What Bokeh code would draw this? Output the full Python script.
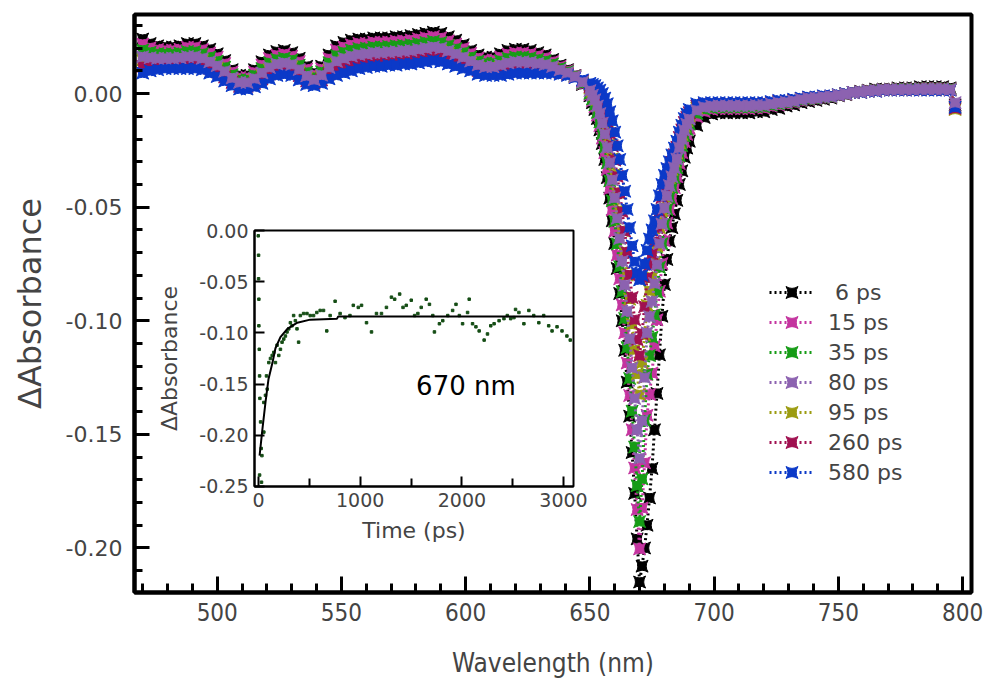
from bokeh.plotting import figure
from bokeh.models import (Range1d, SingleIntervalTicker, FixedTicker, PrintfTickFormatter,
                          Legend, LegendItem, Label)
from bokeh.layouts import column
from bokeh.embed import file_html
from bokeh.resources import INLINE
import numpy as np

# ---------------- data (main panel, dA in mOD) ----------------
wavelength = [470, 473, 476, 479, 482, 485, 488, 491, 494, 497, 500, 503, 506, 509, 512, 515, 518, 521, 524, 527,
              530, 533, 536, 539, 542, 545, 548, 551, 554, 557, 560, 563, 566, 569, 572, 575, 578, 581, 584, 587,
              590, 593, 596, 599, 602, 605, 608, 611, 614, 617, 620, 623, 626, 629, 632, 635, 638, 641, 644, 647,
              650, 651, 652, 653, 654, 655, 656, 657, 658, 659, 660, 661, 662, 663, 664, 665, 666, 667, 668, 669,
              670, 671, 672, 673, 674, 675, 676, 677, 678, 679, 680, 681, 682, 683, 684, 685, 686, 687, 688, 689, 690,
              693, 696, 699, 702, 705, 708, 711, 714, 717, 720, 723, 726, 729, 732, 735, 738, 741, 744, 747, 750,
              753, 756, 759, 762, 765, 768, 771, 774, 777, 780, 783, 786, 789, 792, 795, 797]

dA_6ps = [24, 22, 21, 20.5, 20.5, 21, 22, 22, 21, 19.5, 17.5, 14.5, 10.5, 8, 8, 10.5, 14, 17, 18.5, 19,
          18, 15.5, 12, 9, 12, 17, 21, 22.5, 23.5, 24, 24, 24.5, 24.5, 24.5, 25, 25, 25.5, 26, 26.5, 27,
          26.5, 25, 23.5, 21.5, 19, 17, 16, 16, 17.5, 19, 19.5, 19.5, 19, 18, 17, 15, 12.5, 10.5, 8, 4,
          -1, -4, -7, -11, -16, -22, -29, -37, -46, -56, -66, -77, -88, -100, -113, -127, -142, -158, -176, -196,
          -215, -208, -200, -190, -178, -165, -148, -132, -115, -98, -84, -73, -65, -59, -53, -47, -40, -34, -28, -24, -21,
          -14, -10.5, -9, -8.5, -8.5, -8.5, -8.5, -8.5, -8, -8, -7, -6.5, -5.5, -5, -4, -3.5, -3, -2.5, -2, -1,
          -0.5, 0.5, 1, 1.5, 2, 2, 2, 2.5, 2.5, 2.5, 3, 3, 3, 3, 2.5, -5]

dA_15ps = [21.8, 20.2, 19.4, 19.1, 19.1, 19.5, 20.4, 20.4, 19.4, 17.9, 16.0, 13.2, 9.5, 7.1, 7.1, 9.4, 12.6, 15.4, 16.9, 17.4,
           16.5, 14.1, 10.8, 8.2, 10.9, 15.4, 19.1, 20.5, 21.5, 22.1, 22.1, 22.6, 22.6, 22.7, 23.1, 23.2, 23.6, 24.1, 24.6, 25.1,
           24.6, 23.2, 21.8, 19.9, 17.7, 15.7, 14.8, 14.8, 16.1, 17.4, 17.9, 17.9, 17.5, 16.7, 15.8, 14.1, 11.9, 10.1, 7.9, 4.3,
           -0.4, -3.1, -5.8, -9.5, -14.1, -19.6, -26.0, -33.4, -41.8, -51.2, -60.6, -71.1, -81.5, -93.0, -105.3, -118.6, -132.9, -148.0, -164.8, -183.1,
           -200.4, -182.4, -162.5, -141.6, -132.4, -123.0, -111.2, -99.6, -87.0, -74.8, -64.8, -57.0, -51.0, -46.2, -41.4, -36.6, -30.8, -26.0, -21.2, -18.0, -15.4,
           -10.2, -7.9, -7.0, -6.7, -6.7, -6.7, -6.7, -6.7, -6.4, -6.4, -5.6, -5.1, -4.5, -4.0, -3.2, -2.7, -2.4, -1.9, -1.6, -0.8,
           -0.3, 0.5, 0.8, 1.3, 1.6, 1.8, 1.8, 2.1, 2.1, 2.1, 2.4, 2.4, 2.4, 2.4, 2.1, -5.5]

dA_35ps = [19.2, 18.2, 17.6, 17.5, 17.5, 17.8, 18.5, 18.5, 17.6, 16.1, 14.3, 11.6, 8.3, 6.1, 6.1, 8.1, 11.0, 13.6, 15.1, 15.6,
           14.8, 12.5, 9.4, 7.2, 9.6, 13.6, 16.8, 18.2, 19.2, 19.8, 20.0, 20.5, 20.5, 20.7, 21.0, 21.2, 21.5, 22.0, 22.5, 23.0,
           22.5, 21.2, 19.8, 18.1, 16.1, 14.3, 13.4, 13.4, 14.5, 15.6, 16.1, 16.1, 15.8, 15.1, 14.4, 13.1, 11.2, 9.7, 7.7, 4.6,
           0.1, -2.4, -4.9, -8.3, -12.5, -17.6, -23.6, -30.5, -38.4, -47.2, -56.2, -66.2, -76.2, -87.2, -99.0, -111.8, -125.4, -139.8, -155.6, -172.6,
           -188.4, -169.6, -143.8, -123.5, -115.3, -107.3, -97.4, -87.5, -76.5, -66.1, -57.6, -51.0, -45.8, -41.4, -37.1, -32.7, -27.4, -23.0, -18.7, -15.8, -13.3,
           -8.8, -6.9, -6.3, -6.0, -6.0, -6.0, -6.0, -6.0, -5.8, -5.8, -5.1, -4.6, -4.1, -3.6, -2.9, -2.4, -2.2, -1.7, -1.5, -0.7,
           -0.2, 0.5, 0.7, 1.2, 1.5, 1.7, 1.7, 2.0, 2.0, 2.0, 2.2, 2.2, 2.2, 2.2, 2.0, -6.0]

dA_80ps = [16.2, 15.8, 15.5, 15.6, 15.6, 15.8, 16.3, 16.3, 15.5, 14.0, 12.3, 9.8, 6.9, 4.9, 4.9, 6.6, 9.1, 11.5, 13.0, 13.5,
           12.8, 10.6, 7.8, 6.1, 8.1, 11.5, 14.2, 15.5, 16.5, 17.2, 17.5, 18.0, 18.0, 18.3, 18.5, 18.8, 19.0, 19.5, 20.0, 20.5,
           20.0, 18.8, 17.5, 16.0, 14.3, 12.6, 11.8, 11.8, 12.6, 13.5, 14.0, 14.0, 13.8, 13.3, 12.8, 11.9, 10.4, 9.2, 7.5, 5.0,
           1.3, -0.7, -2.7, -5.5, -8.8, -13.0, -17.9, -23.7, -30.4, -38.0, -45.9, -54.9, -63.8, -73.8, -84.3, -95.8, -108.0, -120.7, -134.2, -148.0,
           -160.5, -144.0, -125.0, -105.3, -98.2, -91.5, -83.6, -75.3, -66.0, -57.4, -50.4, -45.0, -40.5, -36.6, -32.7, -28.8, -23.9, -20.0, -16.1, -13.5, -11.2,
           -7.4, -6.0, -5.5, -5.4, -5.4, -5.4, -5.4, -5.4, -5.2, -5.2, -4.6, -4.1, -3.8, -3.3, -2.6, -2.1, -2.0, -1.5, -1.3, -0.7,
           -0.2, 0.5, 0.7, 1.2, 1.3, 1.7, 1.7, 1.8, 1.8, 1.8, 2.0, 2.0, 2.0, 2.0, 1.8, -4.0]

dA_95ps = [14.7, 14.6, 14.5, 14.6, 14.6, 14.8, 15.2, 15.2, 14.5, 13.0, 11.3, 8.9, 6.2, 4.3, 4.3, 5.9, 8.1, 10.5, 12.0, 12.5,
           11.8, 9.6, 7.0, 5.6, 7.4, 10.5, 12.9, 14.1, 15.1, 15.9, 16.3, 16.8, 16.8, 17.1, 17.3, 17.6, 17.8, 18.3, 18.8, 19.3,
           18.8, 17.6, 16.4, 15.0, 13.4, 11.7, 11.0, 11.0, 11.6, 12.5, 13.0, 13.0, 12.8, 12.4, 12.0, 11.3, 10.0, 9.0, 7.4, 5.2,
           2.4, 1.0, -0.5, -2.6, -5.2, -8.4, -12.3, -16.9, -22.4, -28.7, -35.6, -43.5, -51.4, -60.3, -69.6, -79.9, -90.5, -101.6, -112.8, -123.5,
           -132.5, -118.4, -106.3, -93.2, -86.8, -81.0, -74.4, -67.2, -59.0, -51.6, -45.6, -41.0, -37.0, -33.4, -29.8, -26.2, -21.6, -18.0, -14.4, -12.0, -9.8,
           -6.4, -5.3, -5.0, -4.9, -4.9, -4.9, -4.9, -4.9, -4.8, -4.8, -4.2, -3.7, -3.5, -3.0, -2.4, -1.9, -1.8, -1.3, -1.2, -0.6,
           -0.1, 0.5, 0.6, 1.1, 1.2, 1.6, 1.6, 1.7, 1.7, 1.7, 1.8, 1.8, 1.8, 1.8, 1.7, -7.0]

dA_260ps = [12.0, 12.4, 12.6, 12.9, 12.9, 13.0, 13.2, 13.2, 12.6, 11.1, 9.5, 7.3, 4.9, 3.2, 3.2, 4.5, 6.4, 8.6, 10.1, 10.6,
            10.0, 7.9, 5.6, 4.6, 6.0, 8.6, 10.6, 11.7, 12.7, 13.6, 14.0, 14.5, 14.5, 14.9, 15.0, 15.4, 15.5, 16.0, 16.5, 17.0,
            16.5, 15.4, 14.3, 13.1, 11.8, 10.2, 9.6, 9.6, 9.9, 10.6, 11.1, 11.1, 11.0, 10.8, 10.6, 10.2, 9.3, 8.5, 7.2, 5.6,
            3.1, 2.0, 0.9, -0.9, -2.9, -5.5, -8.8, -12.6, -17.5, -23.0, -29.3, -36.5, -43.8, -52.0, -60.5, -70.0, -79.8, -89.8, -99.5, -108.3,
            -115.3, -105.6, -93.8, -81.1, -75.4, -70.5, -65.2, -59.1, -52.0, -45.8, -40.8, -37.0, -33.5, -30.2, -26.9, -23.6, -19.3, -16.0, -12.7, -10.5, -8.4,
            -5.5, -4.7, -4.5, -4.5, -4.5, -4.5, -4.5, -4.5, -4.4, -4.4, -3.9, -3.4, -3.3, -2.8, -2.2, -1.7, -1.7, -1.2, -1.1, -0.6,
            -0.1, 0.5, 0.6, 1.1, 1.1, 1.6, 1.6, 1.6, 1.6, 1.6, 1.7, 1.7, 1.7, 1.7, 1.6, -6.5]

dA_580ps = [9, 10, 10.5, 11, 11, 11, 11, 11, 10.5, 9, 7.5, 5.5, 3.5, 2, 2, 3, 4.5, 6.5, 8, 8.5,
            8, 6, 4, 3.5, 4.5, 6.5, 8, 9, 10, 11, 11.5, 12, 12, 12.5, 12.5, 13, 13, 13.5, 14, 14.5,
            14, 13, 12, 11, 10, 8.5, 8, 8, 8, 8.5, 9, 9, 9, 9, 9, 9, 8.5, 8, 7, 6,
            4.5, 4, 3.5, 2.5, 1.5, 0, -2, -4.5, -8, -12, -17, -23, -29, -36, -43, -51, -59, -67, -74, -79,
            -82, -80, -75, -69, -64, -60, -56, -51, -45, -40, -36, -33, -30, -27, -24, -21, -17, -14, -11, -9, -7,
            -4.5, -4, -4, -4, -4, -4, -4, -4, -4, -4, -3.5, -3, -3, -2.5, -2, -1.5, -1.5, -1, -1, -0.5,
            0, 0.5, 0.5, 1, 1, 1.5, 1.5, 1.5, 1.5, 1.5, 1.5, 1.5, 1.5, 1.5, 1.5, -6]

delay_labels = ["\u20086 ps", "15 ps", "35 ps", "80 ps", "95 ps", "260 ps", "580 ps"]
series_mOD = [dA_6ps, dA_15ps, dA_35ps, dA_80ps, dA_95ps, dA_260ps, dA_580ps]
series_colors = ["#000000", "#c4349f", "#169c16", "#8c62b0", "#9c9c10", "#a01050", "#0b39c8"]
draw_order = [0, 1, 2, 4, 5, 6, 3]

# ---------------- data (inset, kinetics at 670 nm) ----------------
time_ps = [-3, 0, 0, 3, 3, 7, 10, 13, 20, 26, 33, 10, 29,
           52, 52, 68, 85, 78, 101, 117, 134, 150, 166, 182, 199, 215, 231, 248, 264, 280, 297, 313, 329, 345, 362,
           378, 394, 411, 443, 476, 508, 541, 573, 606, 639, 671, 704, 753, 802, 850, 899, 932, 981, 1013, 1062,
           1111, 1160, 1209, 1258, 1307, 1339, 1388, 1421, 1453, 1502, 1535, 1567, 1600, 1649, 1681, 1714, 1730,
           1779, 1812, 1861, 1909, 1942, 1975, 2007, 2056, 2072, 2105, 2138, 2170, 2219, 2252, 2284, 2317, 2366,
           2414, 2447, 2480, 2512, 2528, 2561, 2610, 2659, 2707, 2757, 2805, 2854, 2887, 2936, 2985, 3033, 3066]
dA_670 = [-0.005, -0.024, -0.047, -0.067, -0.093, -0.116, -0.142, -0.164, -0.187, -0.213, -0.220, -0.239, -0.246,
          -0.197, -0.168, -0.161, -0.155, -0.142, -0.129, -0.125, -0.122, -0.119, -0.129, -0.112, -0.122, -0.116,
          -0.109, -0.106, -0.103, -0.099, -0.096, -0.090, -0.093, -0.083, -0.088,
          -0.096, -0.109, -0.083, -0.081, -0.081, -0.083, -0.083, -0.080, -0.078, -0.078, -0.098, -0.083, -0.069,
          -0.081, -0.085, -0.083, -0.073, -0.075, -0.073, -0.090,
          -0.099, -0.081, -0.081, -0.075, -0.065, -0.067, -0.062, -0.075, -0.073, -0.068, -0.083, -0.081, -0.075,
          -0.067, -0.072, -0.083, -0.099,
          -0.091, -0.088, -0.083, -0.078, -0.072, -0.083, -0.091, -0.080, -0.067, -0.091, -0.094, -0.098, -0.107,
          -0.101, -0.093, -0.091, -0.088,
          -0.086, -0.083, -0.086, -0.085, -0.077, -0.080, -0.091, -0.078, -0.083, -0.090, -0.083, -0.093, -0.098,
          -0.094, -0.098, -0.103, -0.107]
fit_time = [10, 39, 68, 98, 137, 166, 215, 283, 381, 508, 772, 782, 3100]
fit_dA = [-0.220, -0.193, -0.168, -0.145, -0.129, -0.115, -0.104, -0.096, -0.090, -0.087, -0.086, -0.084, -0.084]

# ---------------- main figure ----------------
p = figure(width=990, height=685, output_backend="svg", toolbar_location=None,
           x_range=Range1d(466.7, 803.6), y_range=Range1d(-0.2196, 0.0348),
           min_border_left=132, min_border_right=19, min_border_top=14, min_border_bottom=93)
p.xgrid.visible = False
p.ygrid.visible = False
p.outline_line_color = "black"
p.outline_line_width = 4
p.outline_line_alpha = 1.0
p.background_fill_color = "white"
p.border_fill_color = "white"

p.xaxis.ticker = SingleIntervalTicker(interval=50, num_minor_ticks=5)
p.yaxis.ticker = SingleIntervalTicker(interval=0.05, num_minor_ticks=5)
p.yaxis.formatter = PrintfTickFormatter(format="%.2f")
for ax in (p.xaxis[0], p.yaxis[0]):
    ax.axis_line_width = 4
    ax.major_tick_line_width = 3
    ax.minor_tick_line_width = 3
    ax.major_tick_out = 0
    ax.minor_tick_out = 0
    ax.axis_label_text_font_style = "normal"
p.yaxis.major_tick_in = 15
p.yaxis.minor_tick_in = 8
p.xaxis.major_tick_in = 16
p.xaxis.minor_tick_in = 9
p.yaxis.major_label_text_font = "DejaVu Sans"
p.yaxis.major_label_text_font_size = "22px"
p.yaxis.major_label_standoff = 12
p.xaxis.major_label_text_font = "DejaVu Sans Condensed"
p.xaxis.major_label_text_font_size = "24px"
p.xaxis.major_label_standoff = 10
p.yaxis.axis_label = "\u0394Absorbance"
p.yaxis.axis_label_text_font = "DejaVu Sans"
p.yaxis.axis_label_text_font_size = "32px"
p.yaxis.axis_label_standoff = 14
p.xaxis.axis_label = "Wavelength (nm)"
p.xaxis.axis_label_text_font = "DejaVu Sans Condensed"
p.xaxis.axis_label_text_font_size = "26px"
p.xaxis.axis_label_standoff = 24

wl = np.array(wavelength, dtype=float)
renderers = {}
for i in draw_order:
    y = np.array(series_mOD[i], dtype=float) / 1000.0
    c = series_colors[i]
    lr = p.line(wl, y, line_color=c, line_width=3, line_dash="2 3")
    sr = p.scatter(wl, y, marker="square_pin", size=12, fill_color=c, line_color=c, line_width=1)
    renderers[i] = [lr, sr]

items = [LegendItem(label=delay_labels[i], renderers=renderers[i]) for i in range(7)]
legend = Legend(items=items, location=(635, 105), border_line_alpha=0, background_fill_alpha=0,
                padding=0, margin=0, spacing=0, glyph_width=45, glyph_height=30, label_height=30,
                label_standoff=14, label_text_font="DejaVu Sans", label_text_font_size="22px")
p.add_layout(legend)

# ---------------- inset figure ----------------
ins = figure(frame_width=319, frame_height=256, output_backend="svg", toolbar_location=None,
             x_range=Range1d(-40, 3098), y_range=Range1d(-0.2502, 0.0002),
             min_border_left=134, min_border_right=18, min_border_top=10, min_border_bottom=70)
ins.xgrid.visible = False
ins.ygrid.visible = False
ins.outline_line_color = "black"
ins.outline_line_width = 2
ins.outline_line_alpha = 1.0
ins.background_fill_color = "white"
ins.border_fill_alpha = 0
ins.xaxis.ticker = FixedTicker(ticks=[0, 1000, 2000, 3000], minor_ticks=[500, 1500, 2500])
ins.yaxis.ticker = FixedTicker(ticks=[0.0, -0.05, -0.10, -0.15, -0.20, -0.25])
ins.yaxis.formatter = PrintfTickFormatter(format="%.2f")
for ax in (ins.xaxis[0], ins.yaxis[0]):
    ax.axis_line_width = 2
    ax.major_tick_line_width = 2
    ax.minor_tick_line_width = 2
    ax.major_tick_out = 0
    ax.minor_tick_out = 0
    ax.major_tick_in = 10
    ax.minor_tick_in = 8
    ax.major_label_text_font = "DejaVu Sans"
    ax.major_label_text_font_size = "19px"
    ax.major_label_standoff = 6
    ax.axis_label_text_font = "DejaVu Sans"
    ax.axis_label_text_font_size = "22px"
    ax.axis_label_text_font_style = "normal"
ins.yaxis.minor_tick_line_color = None
ins.yaxis.axis_label = "\u0394Absorbance"
ins.yaxis.axis_label_standoff = 14
ins.xaxis.axis_label = "Time (ps)"
ins.xaxis.axis_label_standoff = 8
ins.scatter(time_ps, dA_670, marker="square", size=2.5, fill_color="#154d15", line_color="#154d15")
ins.line(fit_time, fit_dA, line_color="black", line_width=2)
ins.add_layout(Label(x=2040, y=-0.152, text="670 nm", text_align="center", text_baseline="middle",
                     text_font="DejaVu Sans", text_font_size="26px", text_color="black"))
ins.styles = {"position": "absolute", "left": "120px", "top": "220px"}

root = column(p, ins)
open("out.html", "w").write(file_html(root, INLINE))
